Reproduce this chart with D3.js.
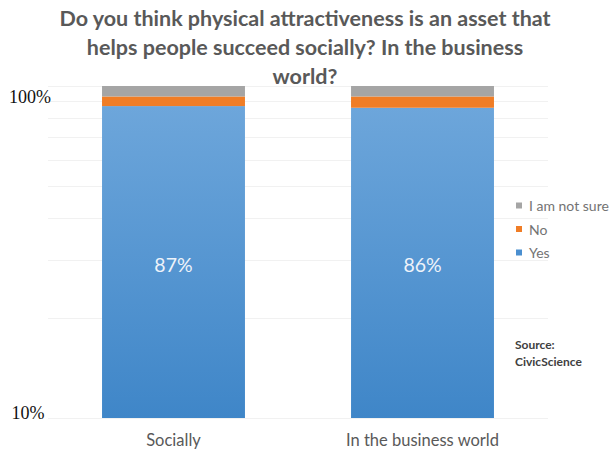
<!DOCTYPE html>
<html lang="en">
<head>
    <meta charset="UTF-8">
    <title>Physical attractiveness as an asset</title>
    <script src="https://cdnjs.cloudflare.com/ajax/libs/d3/7.8.5/d3.min.js"></script>
    <style>
        body { margin: 0; background: #fff; }
        svg { display: block; }
        .title { font-family: Lato, "Open Sans", sans-serif; font-weight: bold; fill: #595959; }
        .cat { font-family: Lato, "Open Sans", sans-serif; fill: #595959; font-size: 16.5px; }
        .legend text { font-family: Lato, "Open Sans", sans-serif; fill: #737373; font-size: 14px; }
        .source { font-family: Lato, "Open Sans", sans-serif; fill: #404040; font-size: 12px; font-weight: bold; }
        .ylab { font-family: "Liberation Serif", "DejaVu Serif", serif; fill: #111; font-size: 18px; }
        .grid { stroke: #f1f1f1; stroke-width: 1; }
    </style>
</head>
<body>
    <div id="chart"></div>

    <script>
        // chart data
        const categories = ["Socially", "In the business world"];
        const yes = [87, 86];
        const no = [6, 7];
        const notSure = [7, 7];
        const seriesNames = ["Yes", "No", "I am not sure"];
        const yTickLabels = ["100%", "10%"];
        const titleLines = [
            "Do you think physical attractiveness is an asset that",
            "helps people succeed socially? In the business",
            "world?"
        ];
        const sourceLines = ["Source:", "CivicScience"];

        const width = 612, height = 454;
        const colors = { "Yes": "url(#blueGrad)", "No": "#f07d26", "I am not sure": "#a5a5a5" };
        const legendColors = { "Yes": "#4a8fd0", "No": "#f07d26", "I am not sure": "#a5a5a5" };

        const svg = d3.select("#chart").append("svg")
            .attr("width", width)
            .attr("height", height);

        // blue gradient like the original Excel fill
        const grad = svg.append("defs").append("linearGradient")
            .attr("id", "blueGrad")
            .attr("gradientUnits", "userSpaceOnUse")
            .attr("x1", 0).attr("y1", 86).attr("x2", 0).attr("y2", 418);
        grad.append("stop").attr("offset", "0%").attr("stop-color", "#70a8dc");
        grad.append("stop").attr("offset", "100%").attr("stop-color", "#3f86c8");

        const x = d3.scaleBand()
            .domain(categories)
            .range([48, 548])
            .paddingInner(0.426)
            .paddingOuter(0.217);

        // log axis from 10% to 100%
        const y = d3.scaleLog()
            .domain([10, 100])
            .range([418, 86]);

        // gridlines
        svg.append("g").selectAll("line")
            .data(d3.range(10, 101, 10))
            .enter().append("line")
            .attr("class", "grid")
            .attr("x1", 48).attr("x2", 548)
            .attr("y1", d => Math.round(y(d)) + 0.5)
            .attr("y2", d => Math.round(y(d)) + 0.5);

        // stacked bars
        const rows = categories.map((c, i) => ({ cat: c, "Yes": yes[i], "No": no[i], "I am not sure": notSure[i] }));
        const stack = d3.stack().keys(seriesNames)(rows);

        svg.append("g").selectAll("g")
            .data(stack)
            .enter().append("g")
            .attr("fill", d => colors[d.key])
            .selectAll("rect")
            .data(d => d)
            .enter().append("rect")
            .attr("x", d => x(d.data.cat))
            .attr("width", x.bandwidth())
            .attr("y", d => y(Math.min(d[1], 100)))
            .attr("height", d => y(Math.max(d[0], 10)) - y(Math.min(d[1], 100)));

        // value labels
        svg.append("g").selectAll("text")
            .data(rows)
            .enter().append("text")
            .attr("x", d => x(d.cat) + x.bandwidth() / 2)
            .attr("y", 272)
            .attr("text-anchor", "middle")
            .style("font-family", "Lato, 'Open Sans', sans-serif")
            .style("font-size", "19.5px")
            .style("fill", "#eef3fa")
            .text(d => d["Yes"] + "%");

        // title
        svg.append("g").selectAll("text")
            .data(titleLines)
            .enter().append("text")
            .attr("class", "title")
            .attr("x", 305)
            .attr("y", (d, i) => 26 + i * 29)
            .attr("text-anchor", "middle")
            .style("font-size", "21.5px")
            .text(d => d);

        // category labels
        svg.append("g").selectAll("text")
            .data(categories)
            .enter().append("text")
            .attr("class", "cat")
            .attr("x", d => x(d) + x.bandwidth() / 2)
            .attr("y", 446)
            .attr("text-anchor", "middle")
            .text(d => d);

        // y labels
        svg.append("text").attr("class", "ylab")
            .attr("x", 30).attr("y", y(100) + 17)
            .attr("text-anchor", "middle")
            .text(yTickLabels[0]);
        svg.append("text").attr("class", "ylab")
            .attr("x", 28).attr("y", y(10) + 1)
            .attr("text-anchor", "middle")
            .text(yTickLabels[1]);

        // legend (top to bottom: not sure, no, yes)
        const legend = svg.append("g").attr("class", "legend")
            .selectAll("g")
            .data(seriesNames.slice().reverse())
            .enter().append("g")
            .attr("transform", (d, i) => `translate(516, ${206 + i * 23.5})`);
        legend.append("rect")
            .attr("x", 0).attr("y", -3.5)
            .attr("width", 6).attr("height", 6)
            .attr("fill", d => legendColors[d]);
        legend.append("text")
            .attr("x", 13).attr("y", 5)
            .text(d => d);

        // source note
        svg.append("g").selectAll("text")
            .data(sourceLines)
            .enter().append("text")
            .attr("class", "source")
            .attr("x", 515)
            .attr("y", (d, i) => 349 + i * 17)
            .text(d => d);
    </script>
</body>
</html>
